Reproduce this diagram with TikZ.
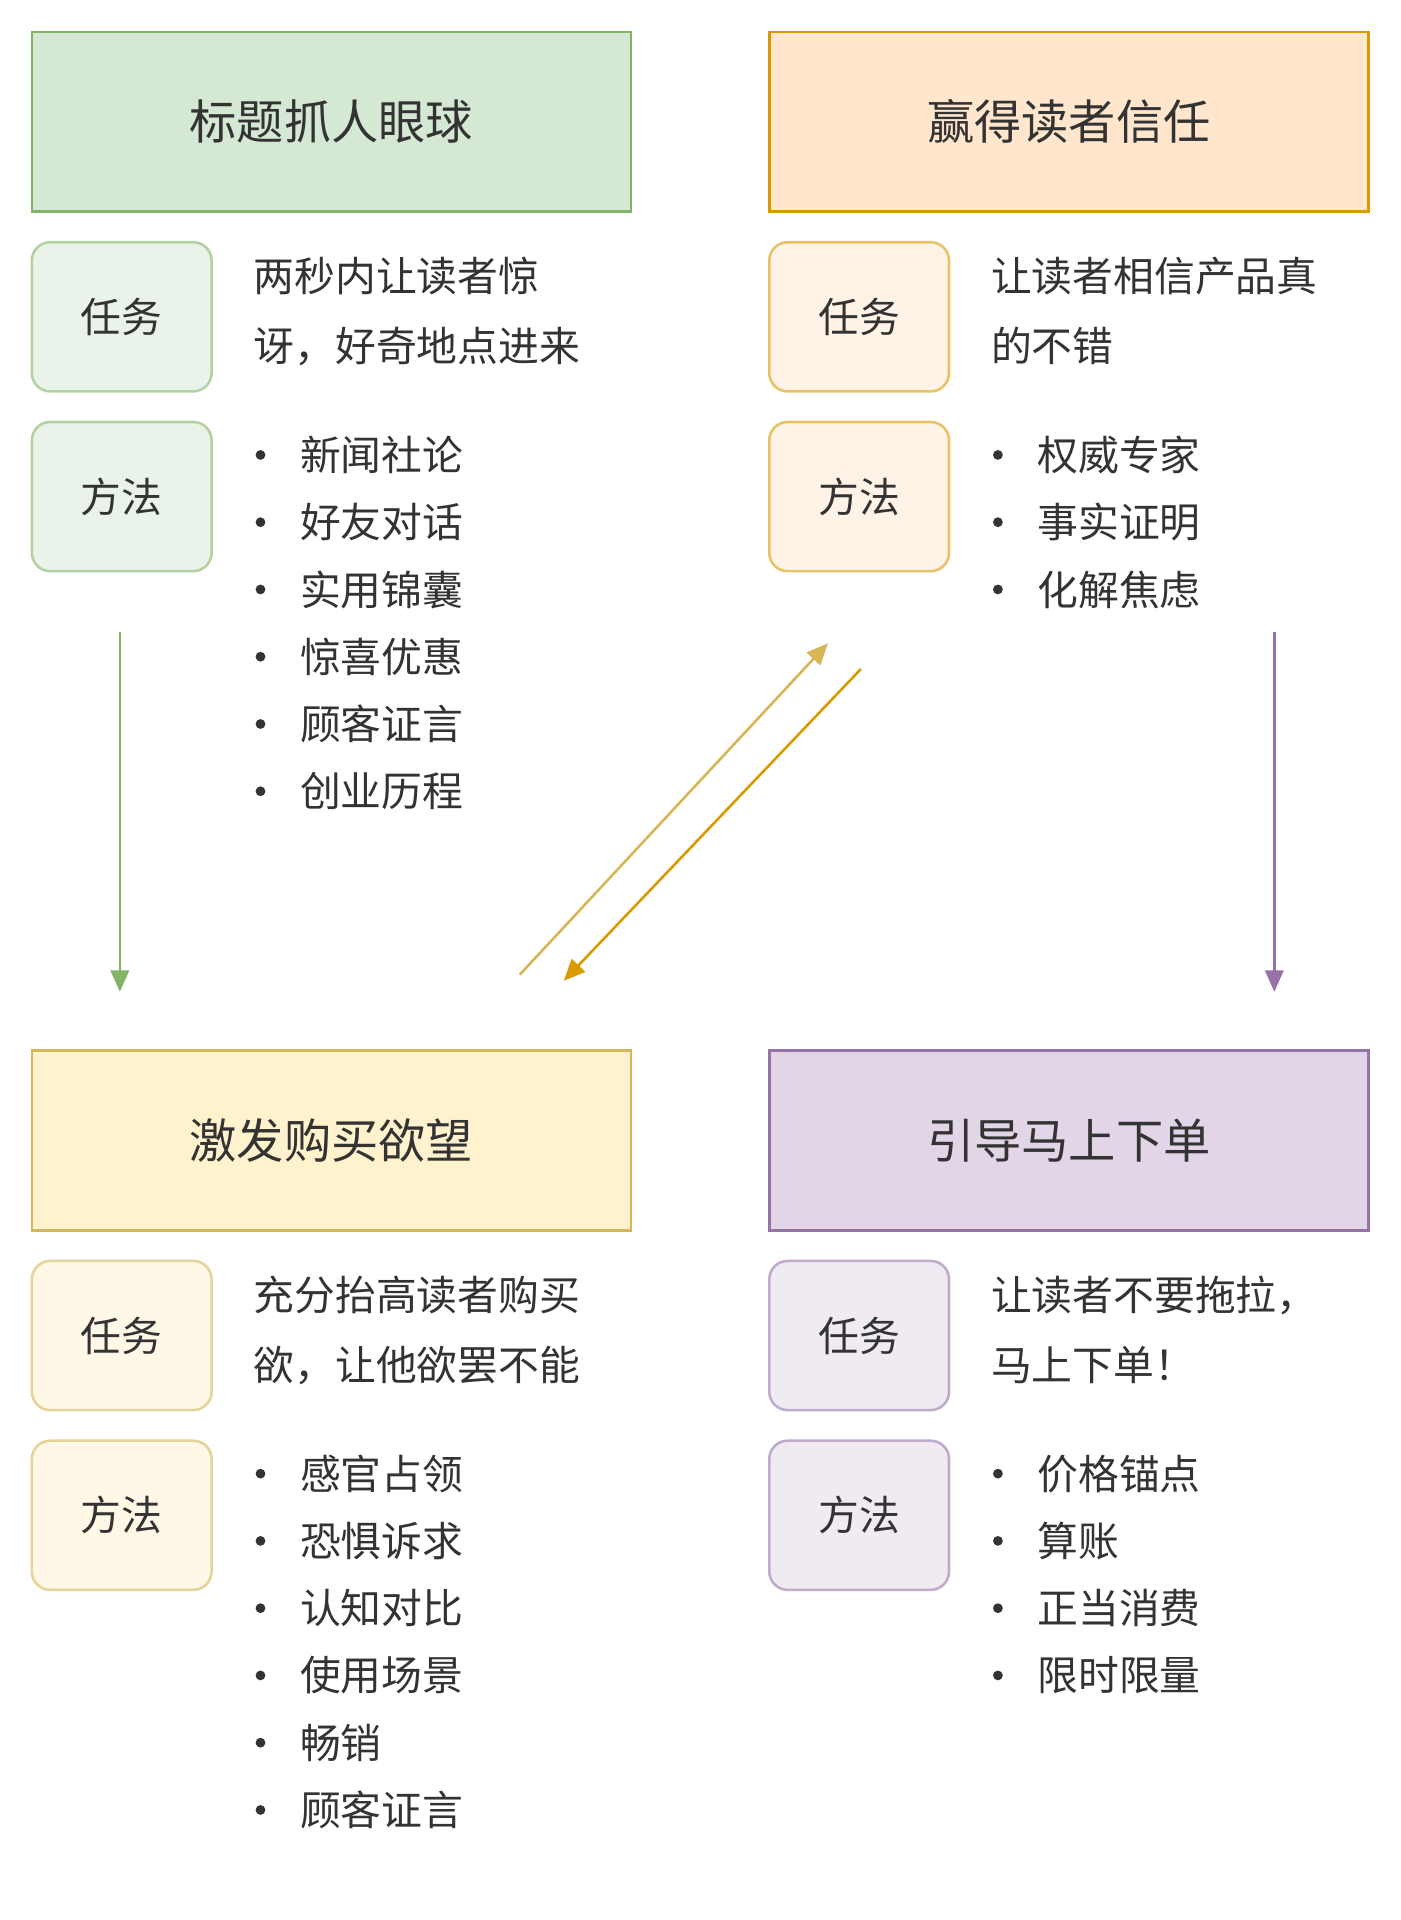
\documentclass[tikz,border=0pt]{standalone}
\usepackage{fontspec}
\setmainfont{Noto Sans CJK SC}
\usetikzlibrary{arrows.meta, positioning}

\definecolor{gfill}{HTML}{D5E8D4}\definecolor{gline}{HTML}{82B366}
\definecolor{ofill}{HTML}{FFE6CC}\definecolor{oline}{HTML}{D79B00}
\definecolor{yfill}{HTML}{FFF2CC}\definecolor{yline}{HTML}{D6B656}
\definecolor{pfill}{HTML}{E1D5E7}\definecolor{pline}{HTML}{9673A6}
\definecolor{txt}{HTML}{333333}

\begin{document}
\begin{tikzpicture}[x=0.02cm, y=-0.02cm,
    header/.style={draw=#1line, fill=#1fill, line width=1.2pt, minimum width=9.8cm, minimum height=2.94cm, anchor=north west, font=\fontsize{22}{26}\selectfont, text=txt},
    tag/.style={draw=#1line!60, fill=#1fill!50, line width=1.2pt, rounded corners=0.3cm, minimum width=2.94cm, minimum height=2.44cm, anchor=north west, font=\fontsize{19}{22}\selectfont, text=txt},
    para/.style={anchor=north west, align=left, inner sep=0pt, font=\fontsize{19}{32.4}\selectfont, text=txt},
    item/.style={anchor=west, inner sep=0pt, font=\fontsize{19}{22}\selectfont, text=txt},
    dot/.style={circle, fill=txt, inner sep=0pt, minimum size=0.16cm},
    flow/.style={line width=1.2pt, -{Triangle[length=0.35cm, width=0.3cm]}}]
    \useasboundingbox (0,0) rectangle (1145,1570);

    % Headers
    \node[header=g] (hook) at (25,25) {标题抓人眼球};
    \node[header=o] (trust) at (628,25) {赢得读者信任};
    \node[header=y] (desire) at (25,858) {激发购买欲望};
    \node[header=p] (order) at (628,858) {引导马上下单};

    % Task and method tags
    \node[tag=g] (hooktask) at (25,197) {任务};
    \node[tag=g] (hookway) at (25,344) {方法};
    \node[tag=o] (trusttask) at (628,197) {任务};
    \node[tag=o] (trustway) at (628,344) {方法};
    \node[tag=y] (desiretask) at (25,1030) {任务};
    \node[tag=y] (desireway) at (25,1177) {方法};
    \node[tag=p] (ordertask) at (628,1030) {任务};
    \node[tag=p] (orderway) at (628,1177) {方法};

    % Tasks
    \node[para] (hooktxt) at (207,210) {两秒内让读者惊\\讶，好奇地点进来};
    \node[para] (trusttxt) at (810,210) {让读者相信产品真\\的不错};
    \node[para] (desiretxt) at (207,1043) {充分抬高读者购买\\欲，让他欲罢不能};
    \node[para] (ordertxt) at (810,1043) {让读者不要拖拉，\\马上下单！};

    % Methods
    \foreach \t [count=\i] in {新闻社论, 好友对话, 实用锦囊, 惊喜优惠, 顾客证言, 创业历程} {
        \node[dot] (hd\i) at (213,{317+55*\i}) {};
        \node[item] (hm\i) at (245,{317+55*\i}) {\t};
    }
    \foreach \t [count=\i] in {权威专家, 事实证明, 化解焦虑} {
        \node[dot] (td\i) at (816,{317+55*\i}) {};
        \node[item] (tm\i) at (848,{317+55*\i}) {\t};
    }
    \foreach \t [count=\i] in {感官占领, 恐惧诉求, 认知对比, 使用场景, 畅销, 顾客证言} {
        \node[dot] (dd\i) at (213,{1150+55*\i}) {};
        \node[item] (dm\i) at (245,{1150+55*\i}) {\t};
    }
    \foreach \t [count=\i] in {价格锚点, 算账, 正当消费, 限时限量} {
        \node[dot] (od\i) at (816,{1150+55*\i}) {};
        \node[item] (om\i) at (848,{1150+55*\i}) {\t};
    }

    % Arrows
    \coordinate (a1) at (98,517);   \coordinate (a2) at (98,811);
    \coordinate (b1) at (1042,517); \coordinate (b2) at (1042,811);
    \coordinate (c1) at (425,797);  \coordinate (c2) at (677,526);
    \coordinate (d1) at (704,547);  \coordinate (d2) at (461,802);
    \draw[flow, gline] (a1) -- (a2);
    \draw[flow, pline] (b1) -- (b2);
    \draw[flow, yline] (c1) -- (c2);
    \draw[flow, oline] (d1) -- (d2);
\end{tikzpicture}
\end{document}
